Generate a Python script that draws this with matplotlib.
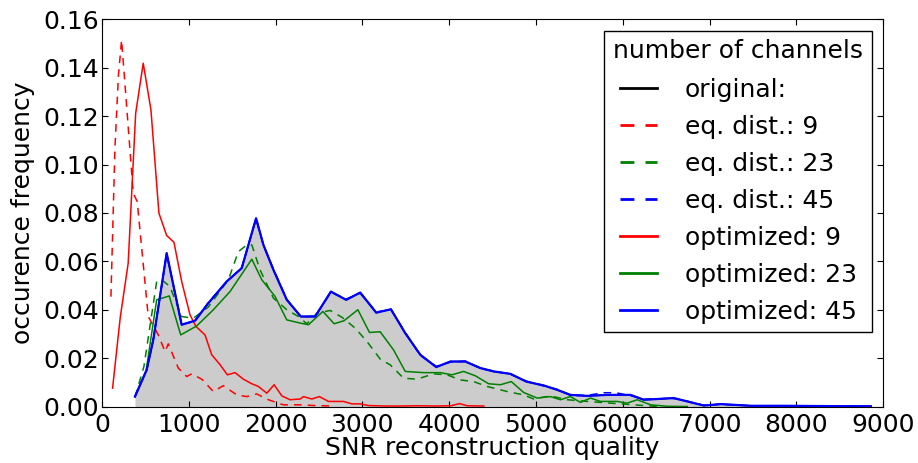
import numpy as np
import matplotlib
matplotlib.use("Agg")
import matplotlib.pyplot as plt

# original signal (grey area + black line)
orig_x = [381, 516, 592, 746, 919, 1073, 1226, 1438, 1611, 1776, 1861, 1976, 2130, 2292,
          2457, 2638, 2814, 2976, 3160, 3330, 3495, 3668, 3852, 4014, 4187, 4360, 4513,
          4706, 4890, 5090, 5245, 5398, 5590, 5821, 6090, 6243, 6398, 6589, 6744, 6935,
          7128, 7474, 7858, 8243, 8858]
orig_y = [0.0041, 0.0152, 0.0276, 0.0634, 0.0338, 0.0355, 0.0427, 0.0517, 0.0572, 0.0778,
          0.0668, 0.0565, 0.0441, 0.0372, 0.0372, 0.0475, 0.0441, 0.0471, 0.0388, 0.0402,
          0.0303, 0.0214, 0.0163, 0.0186, 0.0186, 0.0159, 0.0145, 0.0135, 0.0103, 0.0087,
          0.0069, 0.0048, 0.0044, 0.0048, 0.0048, 0.0028, 0.0031, 0.0035, 0.0021, 0.0004,
          0.0010, 0.0003, 0.0003, 0.0002, 0.0001]

# eq. dist.: 9
eq9_x = [104, 150, 190, 227, 361, 407, 534, 650, 727, 765, 880, 977, 1035, 1150, 1284,
         1399, 1554, 1669, 1784, 1918, 2091, 2284, 2450, 2650]
eq9_y = [0.0454, 0.1066, 0.1367, 0.1515, 0.0882, 0.0847, 0.0372, 0.0296, 0.0227, 0.0259,
         0.0159, 0.0124, 0.0135, 0.0113, 0.0062, 0.0086, 0.0048, 0.0041, 0.0052, 0.0028,
         0.0007, 0.0007, 0.0004, 0.0002]

# eq. dist.: 23
eq23_x = [381, 484, 631, 688, 784, 919, 1053, 1226, 1457, 1572, 1669, 1727, 1822, 1976,
          2130, 2264, 2361, 2476, 2630, 2765, 2918, 3053, 3206, 3322, 3476, 3629, 3821,
          3976, 4129, 4283, 4437, 4668, 4859, 4975, 5167, 5360, 5590, 5859, 6128, 6398]
eq23_y = [0.0039, 0.0165, 0.0517, 0.0524, 0.0496, 0.0372, 0.0365, 0.0411, 0.0524, 0.0640,
          0.0668, 0.0668, 0.0565, 0.0448, 0.0400, 0.0372, 0.0342, 0.0386, 0.0397, 0.0369,
          0.0324, 0.0269, 0.0196, 0.0172, 0.0117, 0.0113, 0.0135, 0.0131, 0.0110, 0.0103,
          0.0083, 0.0062, 0.0048, 0.0031, 0.0044, 0.0028, 0.0021, 0.0014, 0.0007, 0.0000]

# eq. dist.: 45
eq45_x = [381, 516, 592, 746, 919, 1073, 1226, 1438, 1611, 1776, 1861, 1976, 2130, 2292,
          2457, 2638, 2814, 2976, 3160, 3330, 3495, 3668, 3852, 4014, 4187, 4360, 4513,
          4706, 4890, 5090, 5245, 5398, 5590, 5780, 5920, 6090, 6243, 6398, 6589, 6744,
          6935, 7128, 7474, 7858, 8243, 8858]
eq45_y = [0.0041, 0.0150, 0.0278, 0.0630, 0.0340, 0.0352, 0.0430, 0.0515, 0.0575, 0.0775,
          0.0665, 0.0568, 0.0443, 0.0370, 0.0374, 0.0472, 0.0444, 0.0468, 0.0391, 0.0400,
          0.0306, 0.0211, 0.0166, 0.0183, 0.0188, 0.0157, 0.0147, 0.0133, 0.0105, 0.0085,
          0.0071, 0.0046, 0.0046, 0.0057, 0.0057, 0.0045, 0.0030, 0.0032, 0.0033, 0.0022,
          0.0005, 0.0009, 0.0003, 0.0003, 0.0002, 0.0001]

# optimized: 9
opt9_x = [123, 211, 303, 389, 476, 565, 657, 746, 830, 919, 1015, 1084, 1188, 1265, 1361,
          1445, 1534, 1630, 1727, 1803, 1900, 1984, 2073, 2168, 2284, 2322, 2419, 2506,
          2610, 2783, 2880, 2976, 3070, 3260, 3450, 3640, 3830, 4020, 4120, 4210, 4400]
opt9_y = [0.0076, 0.0367, 0.0593, 0.1212, 0.1419, 0.1226, 0.0799, 0.0707, 0.0679, 0.0517,
          0.0379, 0.0331, 0.0296, 0.0214, 0.0173, 0.0131, 0.0140, 0.0113, 0.0094, 0.0083,
          0.0055, 0.0090, 0.0044, 0.0028, 0.0031, 0.0041, 0.0031, 0.0041, 0.0021, 0.0021,
          0.0011, 0.0011, 0.0004, 0.0002, 0.0002, 0.0003, 0.0002, 0.0003, 0.0012, 0.0003,
          0.0002]

# optimized: 23
opt23_x = [381, 508, 631, 776, 908, 1092, 1284, 1476, 1727, 1842, 1995, 2130, 2284, 2380,
           2546, 2676, 2791, 2949, 3083, 3206, 3360, 3495, 3706, 3899, 4033, 4167, 4302,
           4456, 4591, 4717, 4859, 5014, 5167, 5283, 5398, 5513, 5629, 5744, 5936, 6052,
           6167, 6321, 6513, 6744]
opt23_y = [0.0041, 0.0145, 0.0441, 0.0457, 0.0296, 0.0333, 0.0400, 0.0475, 0.0609, 0.0524,
           0.0455, 0.0358, 0.0345, 0.0338, 0.0393, 0.0342, 0.0355, 0.0400, 0.0306, 0.0309,
           0.0234, 0.0145, 0.0140, 0.0140, 0.0131, 0.0145, 0.0127, 0.0094, 0.0090, 0.0103,
           0.0058, 0.0035, 0.0041, 0.0028, 0.0041, 0.0017, 0.0035, 0.0021, 0.0021, 0.0014,
           0.0028, 0.0007, 0.0001, 0.0000]

# optimized: 45
opt45_x = orig_x
opt45_y = [0.0041, 0.0152, 0.0276, 0.0634, 0.0338, 0.0355, 0.0427, 0.0517, 0.0572, 0.0778,
           0.0668, 0.0565, 0.0441, 0.0372, 0.0372, 0.0475, 0.0441, 0.0471, 0.0388, 0.0402,
           0.0303, 0.0214, 0.0163, 0.0186, 0.0186, 0.0159, 0.0145, 0.0135, 0.0103, 0.0087,
           0.0069, 0.0048, 0.0044, 0.0048, 0.0048, 0.0028, 0.0031, 0.0035, 0.0021, 0.0004,
           0.0010, 0.0003, 0.0003, 0.0002, 0.0001]

plt.rcParams['font.family'] = 'DejaVu Sans'
plt.rcParams['font.size'] = 18

fig = plt.figure(figsize=(9.18, 4.63), dpi=100)
ax = fig.add_axes([0.111, 0.122, 0.851, 0.836])

dash = (0, (5, 4))
lw = 1.1
ax.fill_between(orig_x, orig_y, color='0.8', linewidth=0)
ax.plot(orig_x, orig_y, color='k', lw=lw, label='original:')
ax.plot(eq9_x, eq9_y, color='r', lw=lw, linestyle=dash, label='eq. dist.: 9')
ax.plot(eq23_x, eq23_y, color='g', lw=lw, linestyle=dash, label='eq. dist.: 23')
ax.plot(eq45_x, eq45_y, color='b', lw=lw, linestyle=dash, label='eq. dist.: 45')
ax.plot(opt9_x, opt9_y, color='r', lw=lw, label='optimized: 9')
ax.plot(opt23_x, opt23_y, color='g', lw=lw, label='optimized: 23')
ax.plot(opt45_x, opt45_y, color='b', lw=1.6, label='optimized: 45')

ax.set_xlim(0, 9000)
ax.set_ylim(0, 0.16)
ax.set_xticks(np.arange(0, 9001, 1000))
ax.set_yticks(np.arange(0, 0.161, 0.02))
ax.yaxis.set_major_formatter(matplotlib.ticker.FormatStrFormatter('%.2f'))
ax.tick_params(direction='in', top=True, right=True, length=4, width=0.8)
ax.tick_params(axis='y', pad=2)
ax.tick_params(axis='x', pad=5)
ax.set_xlabel('SNR reconstruction quality', labelpad=-1)
ax.set_ylabel('occurence frequency', labelpad=6)

leg = ax.legend(loc='upper right', title='number of channels', fancybox=False,
                edgecolor='k', framealpha=1, handlelength=1.5, handletextpad=1.1,
                labelspacing=0.52, borderaxespad=0.45, borderpad=0.35)
leg.get_title().set_fontsize(18)
leg.get_frame().set_linewidth(1.0)
leg._legend_box.sep = 10.2
for h in leg.get_lines():
    h.set_linewidth(2.0)

fig.savefig('out.png', dpi=100)
